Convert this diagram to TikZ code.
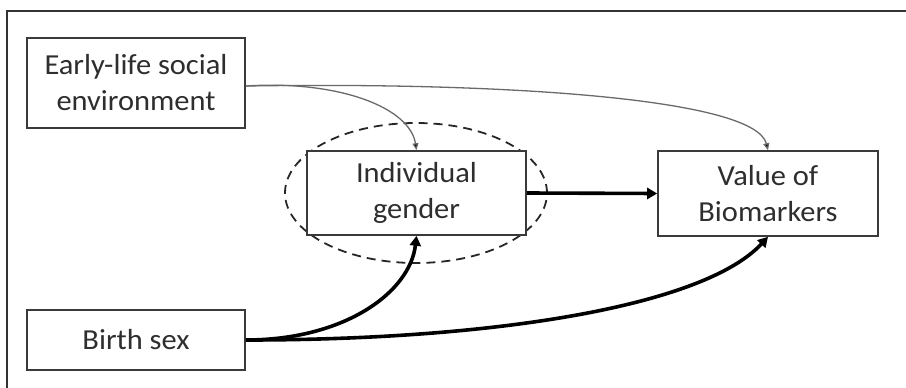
\documentclass[tikz,border=0pt]{standalone}
\usepackage{fontspec}
\setmainfont{Carlito}[FakeStretch=1.05]
\usetikzlibrary{arrows.meta,shapes.geometric}
\definecolor{boxline}{HTML}{3A3A3A}
\definecolor{txt}{HTML}{2E2E2E}
\definecolor{thin}{HTML}{6A6A6A}
\tikzset{
  box/.style={draw=boxline, line width=1.6pt, fill=white, align=center,
    inner sep=0pt, text=txt, font=\fontsize{29}{36}\selectfont},
  thinarrow/.style={draw=thin, line width=1.3pt,
    -{Triangle[length=7pt,width=6pt,fill=black]}},
  thickarrow/.style={draw=black, line width=3.6pt,
    -{Triangle[length=10pt,width=11pt]}},
  ring/.style={draw=black!85, line width=1.8pt, dash pattern=on 9pt off 6pt,
    ellipse, inner sep=0pt},
}
\begin{document}
\begin{tikzpicture}[x=1pt,y=-1pt]
  \useasboundingbox (0,0) rectangle (906,388);
  % frame
  \draw[line width=1.3pt, black!80] (7,388) -- (7,11) -- (906,11);

  % dashed ring round the gender box
  \node[ring, minimum width=262pt, minimum height=140pt] (ring) at (416,193) {};

  \node[box, minimum width=218pt, minimum height=90pt] (early) at (136,83)
    {Early-life social\\environment};
  \node[box, minimum width=219pt, minimum height=84pt] (gender) at (416.5,193)
    {Individual\\gender};
  \node[box, minimum width=220pt, minimum height=85pt] (value) at (768,193.5)
    {Value of\\Biomarkers};
  \node[box, minimum width=218pt, minimum height=60pt] (birth) at (136,340)
    {Birth sex};

  \coordinate (eo) at ([yshift=-3pt]early.east);

  % thin links from the early-life environment
  \draw[thinarrow] (eo) .. controls (340,80) and (410,108) .. (gender.north);
  \draw[thinarrow] (eo) .. controls (500,82) and (755,98) .. (value.north);

  % thick links
  \draw[thickarrow] (gender.east) -- (value.west);
  \draw[thickarrow] (birth.east) .. controls (345,340) and (410,292) .. (gender.south);
  \draw[thickarrow] (birth.east) .. controls (500,340) and (705,305) .. (value.south);
\end{tikzpicture}
\end{document}
